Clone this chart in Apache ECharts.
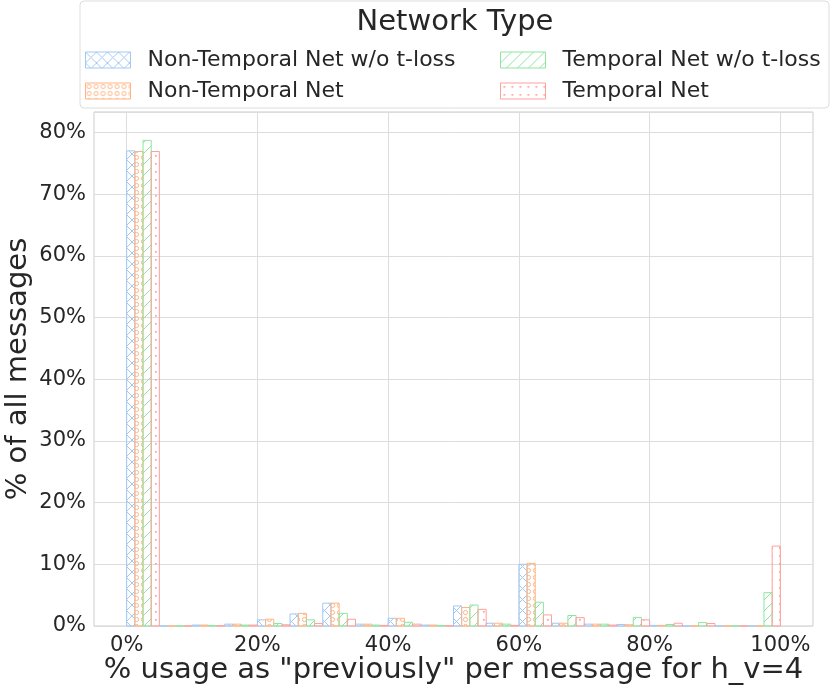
<!DOCTYPE html>
<html lang="en">
<head>
    <meta charset="UTF-8">
    <title>% usage as "previously"</title>
    <script src="https://cdn.jsdelivr.net/npm/echarts@6/dist/echarts.min.js"></script>
    <style>
        html, body { margin: 0; padding: 0; background: #fff; }
        #chart { width: 831px; height: 688px; }
    </style>
</head>
<body>
<div id="chart"></div>

<script>
    // histogram bins (left edges, in %), bin width 5
    const binStarts = [0, 5, 10, 15, 20, 25, 30, 35, 40, 45, 50, 55, 60, 65, 70, 75, 80, 85, 90, 95];
    const binWidth = 5;

    const seriesNames = ['Non-Temporal Net w/o t-loss', 'Non-Temporal Net', 'Temporal Net w/o t-loss', 'Temporal Net'];
    const seriesColors = ['#a1c9f4', '#ffb482', '#8de5a1', '#ff9f9b'];

    // % of all messages per bin
    const nonTemporalNoLoss = [77.0, 0, 0.15, 0.3, 1.0, 1.95, 3.7, 0.3, 1.25, 0.15, 3.25, 0.45, 10.0, 0.45, 0.3, 0.25, 0.1, 0, 0, 0];
    const nonTemporal       = [76.9, 0, 0.15, 0.3, 1.1, 2.05, 3.7, 0.3, 1.25, 0.15, 3.0, 0.45, 10.15, 0.45, 0.3, 0.2, 0.1, 0, 0, 0];
    const temporalNoLoss    = [78.7, 0, 0.1, 0.15, 0.4, 1.0, 2.05, 0.15, 0.6, 0.1, 3.4, 0.3, 3.85, 1.7, 0.3, 1.4, 0.25, 0.55, 0, 5.4];
    const temporal          = [76.9, 0, 0.05, 0.15, 0.2, 0.4, 1.1, 0.1, 0.3, 0.05, 2.7, 0.1, 1.8, 1.35, 0.15, 1.0, 0.45, 0.4, 0, 12.95];
    const allValues = [nonTemporalNoLoss, nonTemporal, temporalNoLoss, temporal];

    const xTicks = [0, 20, 40, 60, 80, 100];

    const FONT = 'DejaVu Sans';
    const TEXT = '#262626';

    // hatch tiles (size first: setting width resets the context)
    function makeTile(kind, color) {
        const c = document.createElement('canvas');
        const size = {x: 11, o: 7, '/': 11, '.': 8}[kind];
        c.width = c.height = size;
        const ctx = c.getContext('2d');
        ctx.strokeStyle = color;
        ctx.fillStyle = color;
        ctx.lineWidth = 1;
        ctx.beginPath();
        if (kind === 'x') {
            ctx.moveTo(0, 0); ctx.lineTo(11, 11);
            ctx.moveTo(11, 0); ctx.lineTo(0, 11);
            ctx.stroke();
        } else if (kind === 'o') {
            ctx.arc(3.5, 3.5, 2.1, 0, Math.PI * 2);
            ctx.stroke();
        } else if (kind === '/') {
            ctx.moveTo(0, 11); ctx.lineTo(11, 0);
            ctx.moveTo(-1, 1); ctx.lineTo(1, -1);
            ctx.moveTo(10, 12); ctx.lineTo(12, 10);
            ctx.stroke();
        } else {
            ctx.fillRect(3, 3, 1.7, 1.7);
        }
        return c;
    }
    const kinds = ['x', 'o', '/', '.'];
    const patterns = kinds.map((k, i) => ({image: makeTile(k, seriesColors[i]), repeat: 'repeat'}));

    const nSeries = seriesNames.length;
    const subWidth = binWidth / nSeries;

    const series = seriesNames.map((name, i) => ({
        name: name,
        type: 'custom',
        itemStyle: {color: seriesColors[i]},
        data: binStarts.map((b, k) => [b + i * subWidth, b + (i + 1) * subWidth, allValues[i][k]]),
        renderItem: (params, api) => {
            const p0 = api.coord([api.value(0), api.value(2)]);
            const p1 = api.coord([api.value(1), 0]);
            return {
                type: 'rect',
                shape: {x: p0[0], y: p0[1], width: p1[0] - p0[0], height: p1[1] - p0[1]},
                style: {fill: patterns[i], stroke: seriesColors[i], lineWidth: 1}
            };
        },
        z: 3
    }));

    const legendItem = (i) => ({
        name: seriesNames[i],
        icon: 'rect',
        itemStyle: {color: patterns[i], borderColor: seriesColors[i], borderWidth: 1}
    });
    const legendCommon = {
        orient: 'vertical',
        top: 44,
        itemWidth: 45,
        itemHeight: 16,
        itemGap: 9,
        selectedMode: false,
        textStyle: {fontFamily: FONT, fontSize: 22, color: TEXT, lineHeight: 20, padding: [0, 0, 0, 12]}
    };

    const chart = echarts.init(document.getElementById('chart'));
    chart.setOption({
        animation: false,
        backgroundColor: '#fff',
        grid: {
            left: 94, right: 18, top: 112, bottom: 62,
            outerBoundsMode: 'none',
            containLabel: false,
            show: true, borderColor: '#cccccc', borderWidth: 1, backgroundColor: 'transparent'
        },
        legend: [
            Object.assign({left: 80, data: [legendItem(0), legendItem(1)]}, legendCommon),
            Object.assign({left: 495, data: [legendItem(2), legendItem(3)]}, legendCommon)
        ],
        graphic: [
            {
                type: 'rect', x: 80, y: 1, z: 0,
                shape: {width: 749, height: 107, r: 4},
                style: {fill: 'rgba(255,255,255,0.8)', stroke: '#dddddd', lineWidth: 1}
            },
            {
                type: 'text', x: 455, y: 22, z: 5,
                style: {
                    text: 'Network Type', font: '29px "DejaVu Sans"', fill: TEXT,
                    align: 'center', verticalAlign: 'middle'
                }
            }
        ],
        xAxis: {
            type: 'value',
            min: -5,
            max: 105,
            axisLine: {show: false},
            axisTick: {show: false, customValues: xTicks},
            splitLine: {show: true, lineStyle: {color: '#dddddd', width: 1}},
            axisLabel: {
                customValues: xTicks,
                formatter: '{value}%',
                fontFamily: FONT, fontSize: 21, color: TEXT, margin: 9
            },
            name: '% usage as "previously" per message for h_v=4',
            nameLocation: 'middle',
            nameGap: 30,
            nameMoveOverlap: false,
            nameTextStyle: {fontFamily: FONT, fontSize: 29, color: TEXT, verticalAlign: 'top'}
        },
        yAxis: {
            type: 'value',
            min: 0,
            max: 83.3,
            interval: 10,
            axisLine: {show: false},
            axisTick: {show: false},
            splitLine: {lineStyle: {color: '#dddddd', width: 1}},
            axisLabel: {
                formatter: (v) => (v % 10 === 0 ? v + '%' : ''),
                fontFamily: FONT, fontSize: 21, color: TEXT, margin: 8,
                showMaxLabel: false
            },
            name: '% of all messages',
            nameLocation: 'middle',
            nameGap: 61,
            nameMoveOverlap: false,
            nameTextStyle: {fontFamily: FONT, fontSize: 29, color: TEXT}
        },
        series: series
    });
</script>
</body>
</html>
